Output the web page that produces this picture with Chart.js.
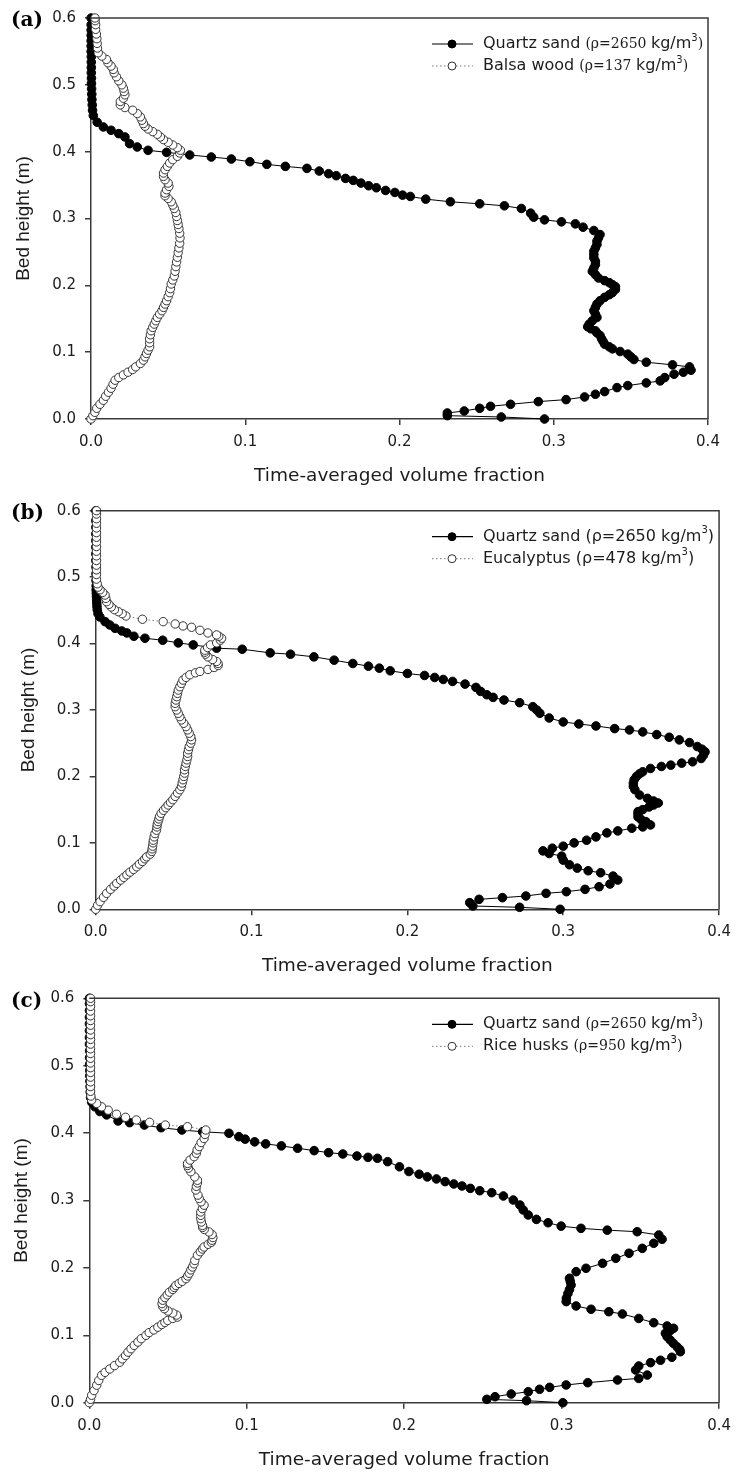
<!DOCTYPE html>
<html>
<head>
<meta charset="utf-8">
<script src="https://cdn.jsdelivr.net/npm/chart.js@4.4.1/dist/chart.umd.min.js"></script>
<style>
  body { margin: 0; background: #fff; }
  .painel { position: absolute; left: 0; }
</style>
</head>
<body>
<canvas id="grafico_a" class="painel" width="739" height="490" style="top:0px"></canvas>
<canvas id="grafico_b" class="painel" width="739" height="490" style="top:490px"></canvas>
<canvas id="grafico_c" class="painel" width="739" height="492" style="top:980px"></canvas>
<script>
// eixos comuns
const xTickValues = [0, 0.1, 0.2, 0.3, 0.4];
const yTickValues = [0, 0.1, 0.2, 0.3, 0.4, 0.5, 0.6];
const xTitle = "Time-averaged volume fraction";
const yTitle = "Bed height (m)";

// legendas: [nome, densidade em kg/m3]
const materiaisA = ["Quartz sand", "Balsa wood"];
const densidadesA = ["2650", "137"];
const materiaisB = ["Quartz sand", "Eucalyptus"];
const densidadesB = ["2650", "478"];
const materiaisC = ["Quartz sand", "Rice husks"];
const densidadesC = ["2650", "950"];

// pares [fração volumétrica, altura do leito (m)], de baixo para cima
const areiaA = [
  [0.294,0.000],[0.266,0.003],[0.231,0.005],[0.231,0.009],[0.242,0.012],[0.252,0.016],[0.259,0.019],[0.272,0.022],
  [0.290,0.026],[0.308,0.029],[0.320,0.033],[0.327,0.037],[0.333,0.041],[0.341,0.047],[0.348,0.050],[0.360,0.054],
  [0.369,0.057],[0.372,0.062],[0.378,0.067],[0.384,0.070],[0.389,0.073],[0.388,0.078],[0.377,0.081],[0.360,0.085],
  [0.352,0.089],[0.350,0.093],[0.348,0.097],[0.343,0.101],[0.338,0.105],[0.336,0.108],[0.333,0.112],[0.332,0.116],
  [0.331,0.120],[0.330,0.125],[0.328,0.129],[0.327,0.132],[0.324,0.135],[0.322,0.138],[0.323,0.142],[0.325,0.147],
  [0.328,0.152],[0.327,0.157],[0.326,0.162],[0.327,0.167],[0.328,0.172],[0.330,0.177],[0.333,0.182],[0.336,0.186],
  [0.338,0.189],[0.340,0.194],[0.340,0.198],[0.338,0.201],[0.336,0.204],[0.333,0.207],[0.329,0.211],[0.327,0.216],
  [0.325,0.221],[0.326,0.226],[0.327,0.231],[0.327,0.236],[0.326,0.241],[0.326,0.246],[0.326,0.251],[0.327,0.256],
  [0.328,0.261],[0.328,0.266],[0.329,0.271],[0.330,0.276],[0.326,0.282],[0.319,0.287],[0.314,0.292],[0.305,0.295],
  [0.294,0.298],[0.287,0.302],[0.285,0.308],[0.279,0.315],[0.268,0.319],[0.252,0.322],[0.233,0.325],[0.217,0.329],
  [0.207,0.333],[0.202,0.335],[0.197,0.339],[0.191,0.342],[0.185,0.346],[0.180,0.349],[0.175,0.353],[0.170,0.357],
  [0.165,0.360],[0.159,0.364],[0.154,0.367],[0.148,0.371],[0.140,0.375],[0.126,0.378],[0.114,0.381],[0.103,0.385],
  [0.091,0.389],[0.078,0.392],[0.064,0.395],[0.049,0.399],[0.037,0.402],[0.030,0.407],[0.025,0.412],[0.022,0.422],
  [0.018,0.427],[0.013,0.432],[0.008,0.437],[0.004,0.444],[0.0015,0.454],[0.001,0.462],[0.0008,0.470],[0.0006,0.478],
  [0.0005,0.486],[0.0004,0.494],[0.0003,0.502],[0.0003,0.510],[0.0002,0.518],[0.0002,0.526],[0.0002,0.534],[0.0002,0.542],
  [0.0001,0.550],[0.0001,0.558],[0.0001,0.566],[0.0001,0.574],[0.0001,0.582],[0.0001,0.590],[0.0001,0.600]
];
const balsa = [
  [0.000,0.000],[0.0012,0.005],[0.0025,0.010],[0.0037,0.016],[0.0058,0.022],[0.008,0.028],[0.0095,0.034],[0.0113,0.040],
  [0.013,0.046],[0.0143,0.052],[0.0156,0.058],[0.018,0.062],[0.021,0.066],[0.024,0.070],[0.027,0.074],[0.029,0.078],
  [0.032,0.083],[0.034,0.088],[0.035,0.093],[0.036,0.098],[0.037,0.103],[0.038,0.108],[0.038,0.114],[0.038,0.120],
  [0.0385,0.126],[0.039,0.132],[0.040,0.137],[0.041,0.142],[0.042,0.147],[0.043,0.152],[0.0445,0.157],[0.046,0.162],
  [0.047,0.167],[0.048,0.172],[0.049,0.177],[0.050,0.183],[0.051,0.189],[0.0515,0.195],[0.052,0.202],[0.053,0.208],
  [0.054,0.214],[0.0545,0.221],[0.055,0.228],[0.0555,0.235],[0.056,0.242],[0.0565,0.249],[0.057,0.256],[0.0575,0.263],
  [0.0577,0.271],[0.0575,0.278],[0.057,0.285],[0.0565,0.291],[0.056,0.297],[0.0555,0.303],[0.055,0.309],[0.054,0.315],
  [0.053,0.320],[0.052,0.325],[0.050,0.330],[0.048,0.334],[0.048,0.338],[0.049,0.343],[0.0505,0.348],[0.050,0.353],
  [0.048,0.358],[0.047,0.363],[0.047,0.368],[0.048,0.373],[0.0495,0.378],[0.051,0.383],[0.053,0.388],[0.056,0.393],
  [0.0575,0.398],[0.058,0.402],[0.056,0.406],[0.053,0.410],[0.050,0.414],[0.047,0.418],[0.045,0.422],[0.043,0.426],
  [0.040,0.430],[0.037,0.434],[0.035,0.438],[0.034,0.442],[0.033,0.447],[0.032,0.452],[0.030,0.457],[0.027,0.462],
  [0.022,0.466],[0.019,0.470],[0.019,0.475],[0.021,0.480],[0.022,0.485],[0.0215,0.490],[0.021,0.495],[0.020,0.500],
  [0.018,0.506],[0.0165,0.512],[0.015,0.518],[0.0145,0.523],[0.013,0.528],[0.011,0.533],[0.010,0.538],[0.007,0.543],
  [0.0047,0.548],[0.0042,0.555],[0.004,0.562],[0.0038,0.569],[0.0035,0.576],[0.003,0.583],[0.003,0.590],[0.0027,0.596],
  [0.0026,0.600]
];

const areiaB = [
  [0.298,0.000],[0.272,0.003],[0.242,0.005],[0.240,0.010],[0.246,0.015],[0.261,0.0175],[0.276,0.020],[0.289,0.024],
  [0.302,0.0265],[0.314,0.030],[0.323,0.034],[0.330,0.038],[0.335,0.044],[0.332,0.050],[0.324,0.055],[0.316,0.058],
  [0.309,0.062],[0.304,0.067],[0.300,0.074],[0.299,0.080],[0.291,0.084],[0.287,0.088],[0.293,0.092],[0.300,0.095],
  [0.307,0.100],[0.315,0.104],[0.321,0.109],[0.328,0.115],[0.335,0.118],[0.344,0.122],[0.351,0.124],[0.356,0.127],
  [0.353,0.132],[0.350,0.135],[0.348,0.139],[0.348,0.143],[0.348,0.147],[0.351,0.150],[0.355,0.154],[0.358,0.157],
  [0.361,0.160],[0.358,0.163],[0.354,0.167],[0.349,0.172],[0.346,0.180],[0.345,0.185],[0.345,0.190],[0.3455,0.195],
  [0.347,0.200],[0.349,0.204],[0.351,0.207],[0.356,0.212],[0.363,0.215],[0.369,0.217],[0.376,0.220],[0.383,0.222],
  [0.3885,0.227],[0.390,0.232],[0.391,0.237],[0.389,0.241],[0.386,0.245],[0.381,0.251],[0.3745,0.255],[0.368,0.259],
  [0.360,0.263],[0.351,0.267],[0.3425,0.270],[0.333,0.272],[0.321,0.276],[0.310,0.279],[0.300,0.282],[0.291,0.288],
  [0.285,0.295],[0.283,0.300],[0.2805,0.305],[0.272,0.311],[0.262,0.315],[0.255,0.319],[0.251,0.323],[0.247,0.328],
  [0.244,0.334],[0.237,0.339],[0.229,0.343],[0.223,0.346],[0.2175,0.349],[0.211,0.352],[0.200,0.355],[0.189,0.359],
  [0.182,0.363],[0.175,0.366],[0.165,0.370],[0.153,0.375],[0.140,0.380],[0.125,0.384],[0.112,0.386],[0.094,0.3915],
  [0.0776,0.393],[0.0626,0.398],[0.053,0.401],[0.043,0.405],[0.0316,0.408],[0.0245,0.411],[0.020,0.416],[0.0167,0.419],
  [0.0124,0.423],[0.009,0.428],[0.006,0.433],[0.0027,0.440],[0.0015,0.445],[0.001,0.451],[0.0008,0.456],[0.0007,0.461],
  [0.0006,0.466],[0.0005,0.471],[0.0004,0.476],[0.0003,0.481],[0.0003,0.487],[0.0002,0.495],[0.0002,0.505],[0.0002,0.515],
  [0.0001,0.525],[0.0001,0.535],[0.0001,0.545],[0.0001,0.555],[0.0001,0.565],[0.0001,0.575],[0.0001,0.585],[0.0001,0.600]
];
const eucalipto = [
  [0.000,0.000],[0.0012,0.006],[0.0028,0.0115],[0.005,0.018],[0.007,0.024],[0.0095,0.030],[0.0118,0.035],[0.0135,0.039],
  [0.016,0.044],[0.018,0.048],[0.020,0.052],[0.022,0.056],[0.0243,0.060],[0.0263,0.064],[0.028,0.068],[0.030,0.072],
  [0.0315,0.076],[0.0327,0.079],[0.035,0.083],[0.036,0.087],[0.0362,0.091],[0.0365,0.095],[0.0368,0.100],[0.037,0.104],
  [0.0375,0.109],[0.038,0.114],[0.039,0.119],[0.0393,0.124],[0.0395,0.128],[0.040,0.132],[0.0405,0.136],[0.041,0.140],
  [0.042,0.1445],[0.0435,0.149],[0.045,0.153],[0.0465,0.157],[0.048,0.161],[0.0495,0.165],[0.051,0.170],[0.0525,0.175],
  [0.054,0.180],[0.055,0.185],[0.0555,0.190],[0.056,0.195],[0.0565,0.200],[0.057,0.205],[0.057,0.210],[0.0575,0.215],
  [0.058,0.220],[0.0585,0.225],[0.059,0.230],[0.059,0.235],[0.0595,0.240],[0.060,0.245],[0.061,0.250],[0.0615,0.255],
  [0.061,0.260],[0.060,0.265],[0.059,0.270],[0.058,0.275],[0.0565,0.280],[0.055,0.285],[0.054,0.290],[0.053,0.295],
  [0.052,0.300],[0.051,0.305],[0.051,0.310],[0.0515,0.315],[0.052,0.320],[0.0525,0.325],[0.053,0.330],[0.054,0.335],
  [0.055,0.340],[0.056,0.345],[0.058,0.349],[0.0604,0.353],[0.064,0.356],[0.0669,0.358],[0.072,0.361],[0.076,0.364],
  [0.0786,0.367],[0.0785,0.370],[0.0776,0.373],[0.075,0.376],[0.072,0.380],[0.0705,0.384],[0.070,0.387],[0.070,0.390],
  [0.0718,0.394],[0.0737,0.398],[0.0776,0.401],[0.080,0.405],[0.0808,0.408],[0.079,0.411],[0.0776,0.413],[0.072,0.416],
  [0.0669,0.420],[0.0615,0.4245],[0.056,0.4265],[0.051,0.4295],[0.0433,0.433],[0.030,0.4366],[0.0194,0.4415],[0.017,0.445],
  [0.0145,0.448],[0.012,0.451],[0.010,0.455],[0.0085,0.459],[0.007,0.463],[0.0065,0.468],[0.006,0.473],[0.0045,0.477],
  [0.0028,0.481],[0.0015,0.485],[0.001,0.490],[0.0005,0.497],[0.0005,0.504],[0.0005,0.511],[0.0005,0.518],[0.0005,0.525],
  [0.0005,0.532],[0.0005,0.539],[0.0005,0.546],[0.0005,0.553],[0.0005,0.560],[0.0005,0.567],[0.0005,0.574],[0.0005,0.581],
  [0.0005,0.588],[0.0005,0.595],[0.0005,0.600]
];

const areiaC = [
  [0.3008,0.000],[0.2777,0.003],[0.2525,0.005],[0.2577,0.0089],[0.268,0.0129],[0.2788,0.0163],[0.286,0.0199],[0.2924,0.0228],
  [0.3029,0.0263],[0.3166,0.0297],[0.3355,0.0337],[0.349,0.036],[0.3544,0.041],[0.347,0.0485],[0.349,0.0545],[0.3565,0.0594],
  [0.3628,0.063],[0.370,0.0674],[0.3754,0.0757],[0.375,0.079],[0.3733,0.083],[0.371,0.088],[0.369,0.093],[0.367,0.098],
  [0.3659,0.103],[0.369,0.107],[0.3711,0.1104],[0.367,0.1138],[0.3585,0.1187],[0.349,0.125],[0.3386,0.1316],[0.330,0.135],
  [0.3187,0.1386],[0.3092,0.1435],[0.3029,0.150],[0.303,0.155],[0.304,0.162],[0.305,0.168],[0.306,0.1746],[0.3055,0.180],
  [0.305,0.1846],[0.3092,0.1944],[0.3155,0.1994],[0.326,0.2068],[0.3344,0.2142],[0.3428,0.2217],[0.3512,0.229],[0.3585,0.2365],
  [0.3638,0.2424],[0.3617,0.2488],[0.348,0.2537],[0.329,0.256],[0.3123,0.2587],[0.2997,0.262],[0.2914,0.267],[0.284,0.272],
  [0.2788,0.2785],[0.2756,0.286],[0.2735,0.2933],[0.2693,0.3007],[0.263,0.3067],[0.2556,0.3116],[0.248,0.3145],[0.242,0.318],
  [0.2367,0.3215],[0.2315,0.3245],[0.226,0.328],[0.2205,0.332],[0.2147,0.335],[0.2095,0.339],[0.203,0.343],[0.197,0.350],
  [0.1895,0.3576],[0.183,0.3626],[0.177,0.364],[0.170,0.366],[0.161,0.369],[0.152,0.371],[0.1428,0.374],[0.1323,0.3775],
  [0.122,0.381],[0.112,0.384],[0.105,0.387],[0.099,0.391],[0.095,0.3947],[0.0887,0.3997],[0.072,0.402],[0.0588,0.4046],
  [0.0456,0.408],[0.035,0.412],[0.0256,0.4155],[0.0183,0.418],[0.011,0.427],[0.0067,0.432],[0.0036,0.439],[0.0015,0.446],
  [0.0008,0.453],[0.0006,0.461],[0.0005,0.469],[0.0004,0.477],[0.0003,0.485],[0.0003,0.493],[0.0002,0.502],[0.0002,0.512],
  [0.0002,0.522],[0.0001,0.532],[0.0001,0.542],[0.0001,0.552],[0.0001,0.562],[0.0001,0.572],[0.0001,0.582],[0.0001,0.592],
  [0.0001,0.600]
];
const arroz = [
  [0.000,0.000],[0.0008,0.005],[0.0015,0.011],[0.003,0.018],[0.0047,0.026],[0.006,0.033],[0.0078,0.0406],[0.010,0.045],
  [0.013,0.050],[0.016,0.055],[0.0193,0.060],[0.021,0.065],[0.023,0.070],[0.0246,0.075],[0.0265,0.080],[0.0285,0.085],
  [0.0309,0.090],[0.033,0.095],[0.036,0.100],[0.038,0.104],[0.041,0.108],[0.0435,0.112],[0.046,0.116],[0.048,0.119],
  [0.0498,0.122],[0.053,0.125],[0.056,0.127],[0.0555,0.130],[0.053,0.133],[0.050,0.136],[0.0477,0.1395],[0.0466,0.143],
  [0.0462,0.147],[0.0466,0.152],[0.048,0.156],[0.0495,0.160],[0.0509,0.164],[0.053,0.168],[0.054,0.171],[0.055,0.174],
  [0.057,0.177],[0.059,0.180],[0.0614,0.184],[0.0625,0.188],[0.0635,0.192],[0.0645,0.197],[0.0655,0.2013],[0.0665,0.206],
  [0.067,0.211],[0.0687,0.2187],[0.0705,0.224],[0.0718,0.228],[0.0729,0.231],[0.0755,0.235],[0.0775,0.238],[0.078,0.241],
  [0.0785,0.245],[0.078,0.2495],[0.076,0.2533],[0.073,0.257],[0.072,0.260],[0.0719,0.263],[0.0712,0.268],[0.0708,0.273],
  [0.0708,0.278],[0.0708,0.283],[0.0718,0.288],[0.0729,0.293],[0.071,0.298],[0.0698,0.303],[0.069,0.308],[0.0677,0.3156],
  [0.068,0.321],[0.0687,0.326],[0.0687,0.330],[0.067,0.335],[0.0645,0.3427],[0.063,0.348],[0.0624,0.352],[0.0624,0.355],
  [0.064,0.360],[0.0666,0.365],[0.068,0.370],[0.0685,0.375],[0.0698,0.380],[0.071,0.386],[0.0729,0.392],[0.0735,0.398],
  [0.074,0.4046],[0.0624,0.4095],[0.0483,0.412],[0.0383,0.416],[0.0299,0.4195],[0.023,0.4234],[0.0173,0.428],[0.012,0.434],
  [0.0078,0.439],[0.0047,0.444],[0.0015,0.449],[0.001,0.455],[0.0008,0.462],[0.0008,0.469],[0.0008,0.476],[0.0008,0.483],
  [0.0008,0.490],[0.0008,0.497],[0.0008,0.504],[0.0008,0.511],[0.0008,0.518],[0.0008,0.525],[0.0008,0.532],[0.0008,0.539],
  [0.0008,0.546],[0.0008,0.553],[0.0008,0.560],[0.0008,0.567],[0.0008,0.574],[0.0008,0.581],[0.0008,0.588],[0.0008,0.595],
  [0.0008,0.600]
];

const COR_EIXO = "#3a3a3a";
const COR_TEXTO = "#1c1c1c";
const SANS = "'DejaVu Sans'";
const SERIF = "'DejaVu Serif'";

const toPts = (arr) => arr.map((p) => ({ x: p[0], y: p[1] }));

// moldura, rótulo do painel e legenda
const decoracao = {
  id: "decoracao",
  afterDraw(chart, args, opts) {
    const ctx = chart.ctx;
    const a = chart.chartArea;
    ctx.save();
    ctx.strokeStyle = COR_EIXO;
    ctx.lineWidth = 1.5;
    ctx.beginPath();
    ctx.moveTo(a.left, a.top);
    ctx.lineTo(a.right, a.top);
    ctx.lineTo(a.right, a.bottom);
    ctx.stroke();

    ctx.fillStyle = "#000";
    ctx.textBaseline = "middle";
    ctx.textAlign = "left";
    ctx.font = "bold 20px " + SERIF;
    ctx.fillText(opts.rotulo, 11, a.top + 3);

    opts.nomes.forEach((nome, i) => {
      const y = a.top + 26 + i * 22;
      ctx.save();
      ctx.beginPath();
      if (i === 0) {
        ctx.strokeStyle = "#000";
        ctx.lineWidth = 1.2;
      } else {
        ctx.strokeStyle = "#777";
        ctx.lineWidth = 1;
        ctx.setLineDash([1.5, 2.5]);
      }
      ctx.moveTo(432, y);
      ctx.lineTo(473, y);
      ctx.stroke();
      ctx.setLineDash([]);
      ctx.beginPath();
      ctx.arc(452, y, 4, 0, Math.PI * 2);
      ctx.fillStyle = i === 0 ? "#000" : "#fff";
      ctx.fill();
      ctx.strokeStyle = i === 0 ? "#000" : "#333";
      ctx.lineWidth = 1;
      ctx.stroke();
      ctx.restore();

      const fonteRho = opts.serif ? "14px " + SERIF : "16px " + SANS;
      const partes = [
        [nome + " ", "16px " + SANS, 0],
        ["(\u03c1=" + opts.densidades[i] + " ", fonteRho, 0],
        ["kg/m", "16px " + SANS, 0],
        ["3", "10px " + SANS, -6],
        [")", fonteRho, 0],
      ];
      let x = 483;
      ctx.fillStyle = COR_TEXTO;
      partes.forEach(([t, f, dy]) => {
        ctx.font = f;
        ctx.fillText(t, x, y + dy);
        x += ctx.measureText(t).width;
      });
    });
    ctx.restore();
  },
};

function criarGrafico(id, caixa, aberta, areia, rotulo, nomes, densidades, serif) {
  const alturaCanvas = document.getElementById(id).height;
  const config = {
    type: "scatter",
    data: {
      datasets: [
        {
          data: toPts(aberta),
          showLine: true,
          borderColor: "#7a7a7a",
          borderWidth: 1,
          borderDash: [1.5, 2.5],
          pointRadius: 4.2,
          pointBackgroundColor: "#fff",
          pointBorderColor: "#333",
          pointBorderWidth: 1,
          clip: false,
        },
        {
          data: toPts(areia),
          showLine: true,
          borderColor: "#000",
          borderWidth: 1,
          pointRadius: 4.3,
          pointBackgroundColor: "#000",
          pointBorderColor: "#000",
          pointBorderWidth: 1,
          clip: false,
        },
      ],
    },
    options: {
      responsive: false,
      animation: false,
      layout: {
        padding: { left: 0, top: caixa.top, right: 739 - caixa.right, bottom: 0 },
      },
      plugins: {
        legend: { display: false },
        tooltip: { enabled: false },
        decoracao: { rotulo: rotulo, nomes: nomes, densidades: densidades, serif: serif },
      },
      scales: {
        x: {
          type: "linear",
          min: 0,
          max: 0.4,
          afterBuildTicks: (s) => { s.ticks = xTickValues.map((v) => ({ value: v })); },
          afterFit: (s) => { s.height = alturaCanvas - caixa.bottom; },
          ticks: {
            callback: (v) => Number(v).toFixed(1),
            font: { family: "DejaVu Sans", size: 15 },
            color: COR_TEXTO,
            padding: 8,
            maxRotation: 0,
          },
          grid: { drawOnChartArea: false, drawTicks: true, tickLength: 6, color: COR_EIXO, lineWidth: 1.5 },
          border: { display: true, color: COR_EIXO, width: 1.5 },
          title: {
            display: true,
            text: xTitle,
            font: { family: "DejaVu Sans", size: 18.5 },
            color: COR_TEXTO,
            padding: { top: 0, bottom: caixa.tituloX },
          },
        },
        y: {
          type: "linear",
          min: 0,
          max: 0.6,
          afterBuildTicks: (s) => { s.ticks = yTickValues.map((v) => ({ value: v })); },
          afterFit: (s) => { s.width = caixa.left; },
          ticks: {
            callback: (v) => Number(v).toFixed(1),
            font: { family: "DejaVu Sans", size: 15 },
            color: COR_TEXTO,
            padding: 9,
          },
          grid: { drawOnChartArea: false, drawTicks: true, tickLength: 6, color: COR_EIXO, lineWidth: 1.5 },
          border: { display: true, color: COR_EIXO, width: 1.5 },
          title: {
            display: true,
            text: yTitle,
            font: { family: "Liberation Sans", size: 19 },
            color: COR_TEXTO,
            padding: { top: caixa.tituloY, bottom: 0 },
          },
        },
      },
    },
    plugins: [decoracao],
  };
  return new Chart(document.getElementById(id), config);
}

const grafico_a = criarGrafico("grafico_a",
  { left: 91, right: 708, top: 15, bottom: 419, tituloX: 2.9, tituloY: 12.6 },
  balsa, areiaA, "(a)", materiaisA, densidadesA, true);

const grafico_b = criarGrafico("grafico_b",
  { left: 95.7, right: 720, top: 20.7, bottom: 419.3, tituloX: 2.9, tituloY: 17.6 },
  eucalipto, areiaB, "(b)", materiaisB, densidadesB, false);

const grafico_c = criarGrafico("grafico_c",
  { left: 89.3, right: 724, top: 18.3, bottom: 422.7, tituloX: 0.9, tituloY: 10.1 },
  arroz, areiaC, "(c)", materiaisC, densidadesC, true);
</script>
</body>
</html>
